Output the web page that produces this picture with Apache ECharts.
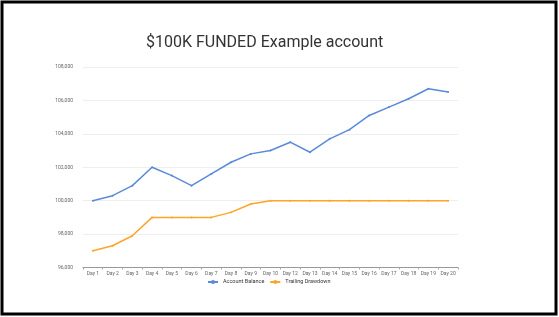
<!DOCTYPE html>
<html>
<head>
<meta charset="utf-8">
<script src="https://cdn.jsdelivr.net/npm/echarts@6/dist/echarts.min.js"></script>
<style>
html,body{margin:0;padding:0;background:#fff;}
#c{width:559px;height:317px;}
</style>
</head>
<body>
<div id="c"></div>
<script>
const categories = ['Day 1','Day 2','Day 3','Day 4','Day 5','Day 6','Day 7','Day 8','Day 9','Day 10','Day 12','Day 13','Day 14','Day 15','Day 16','Day 17','Day 18','Day 19','Day 20'];
const accountBalance = [100000,100300,100900,102000,101500,100900,101600,102300,102800,103000,103500,102900,103700,104250,105100,105600,106100,106700,106500];
const trailingDrawdown = [97000,97300,97900,99000,99000,99000,99000,99300,99800,100000,100000,100000,100000,100000,100000,100000,100000,100000,100000];
const yTicks = [96000,98000,100000,102000,104000,106000,108000];

const chart = echarts.init(document.getElementById('c'));
chart.setOption({
  animation: false,
  backgroundColor: '#fff',
  textStyle: {fontFamily: 'Roboto'},
  title: {
    text: '$100K FUNDED Example account',
    left: 141, top: 30,
    textStyle: {fontFamily: 'Roboto', fontSize: 16, fontWeight: 'normal', color: '#333'}
  },
  graphic: [{
    type: 'rect', z: 100,
    shape: {x: 2, y: 2, width: 554, height: 312},
    style: {fill: 'none', stroke: '#000', lineWidth: 3}
  }],
  legend: {
    bottom: 27, left: 202,
    itemWidth: 10, itemHeight: 5, itemGap: 5,
    textStyle: {fontSize: 5.5, color: '#333', fontFamily: 'Roboto'},
    data: [{name: 'Account Balance'}, {name: 'Trailing Drawdown'}]
  },
  grid: {left: 83, right: 101, top: 67, bottom: 49.5},
  xAxis: {
    type: 'category', data: categories, boundaryGap: true,
    axisLine: {lineStyle: {color: '#999', width: 1}},
    axisTick: {show: true, length: 2, lineStyle: {color: '#aaa'}},
    axisLabel: {fontSize: 5, color: '#666', margin: 4, interval: 0}
  },
  yAxis: {
    type: 'value', min: yTicks[0], max: yTicks[yTicks.length-1], interval: 2000,
    axisLine: {show: false}, axisTick: {show: false},
    axisLabel: {fontSize: 5, color: '#666', margin: 10,
      formatter: v => v.toLocaleString('en-US')},
    splitLine: {lineStyle: {color: '#eee', width: 1}}
  },
  series: [
    {name: 'Account Balance', type: 'line', data: accountBalance,
     color: '#5b8ad9', symbol: 'circle', symbolSize: 2, showSymbol: true,
     lineStyle: {width: 1.5, color: '#5b8ad9'}, itemStyle: {color: '#5b8ad9'}},
    {name: 'Trailing Drawdown', type: 'line', data: trailingDrawdown,
     color: '#fba52a', symbol: 'circle', symbolSize: 2, showSymbol: true,
     lineStyle: {width: 1.5, color: '#fba52a'}, itemStyle: {color: '#fba52a'}}
  ]
});
</script>
</body>
</html>
